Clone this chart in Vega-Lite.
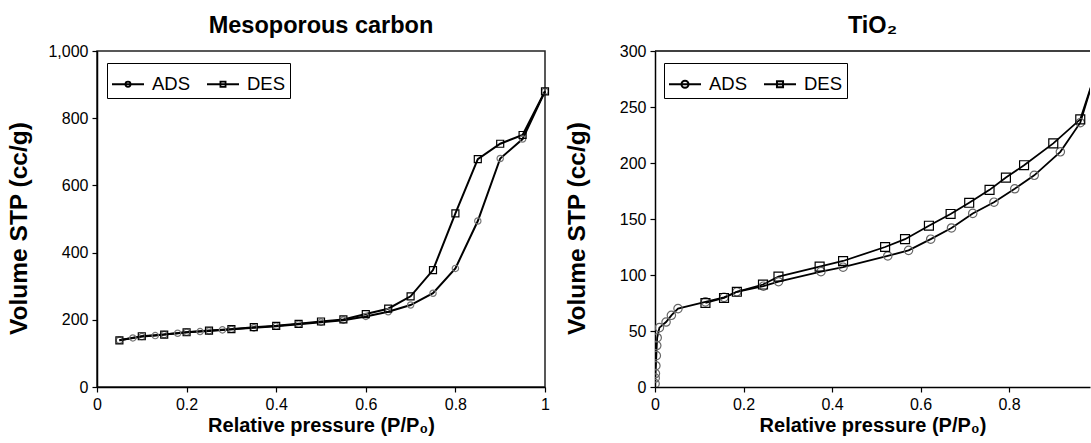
{
  "$schema": "https://vega.github.io/schema/vega-lite/v6.json",
  "background": "white",
  "padding": {"left": 5, "top": 12, "right": 0, "bottom": 0},
  "spacing": 12,
  "config": {
    "font": "Liberation Sans",
    "view": {"stroke": null},
    "axis": {
      "domainColor": "black", "domainWidth": 1.5, "tickColor": "black", "tickSize": 5, "tickWidth": 1.2,
      "labelFontSize": 16, "labelColor": "black", "labelFont": "Liberation Sans", "labelPadding": 4, "labelFlush": false,
      "titleFontSize": 21, "titleColor": "black", "titleFontWeight": "bold", "titleFont": "Liberation Sans", "grid": false
    },
    "title": {"fontSize": 23.5, "fontWeight": "bold", "color": "black", "font": "Liberation Sans", "offset": 6},
    "legend": {
      "title": null, "orient": "none", "legendY": 12, "direction": "horizontal",
      "strokeColor": "black", "fillColor": "white", "padding": 4,
      "labelFontSize": 18.5, "labelColor": "black", "labelFont": "Liberation Sans", "labelOffset": 7, "columnPadding": 12,
      "symbolSize": 1024, "symbolStrokeWidth": 2, "symbolStrokeColor": "black", "symbolFillColor": "transparent", "symbolOpacity": 1
    }
  },
  "datasets": {
    "carbon": [
      {"s": "ADS", "p": 0.05, "v": 139}, {"s": "ADS", "p": 0.08, "v": 146}, {"s": "ADS", "p": 0.10, "v": 150},
      {"s": "ADS", "p": 0.13, "v": 153}, {"s": "ADS", "p": 0.15, "v": 156}, {"s": "ADS", "p": 0.18, "v": 160},
      {"s": "ADS", "p": 0.20, "v": 163}, {"s": "ADS", "p": 0.23, "v": 165}, {"s": "ADS", "p": 0.25, "v": 167},
      {"s": "ADS", "p": 0.28, "v": 170}, {"s": "ADS", "p": 0.30, "v": 172}, {"s": "ADS", "p": 0.35, "v": 176},
      {"s": "ADS", "p": 0.40, "v": 181}, {"s": "ADS", "p": 0.45, "v": 187}, {"s": "ADS", "p": 0.50, "v": 193},
      {"s": "ADS", "p": 0.55, "v": 199}, {"s": "ADS", "p": 0.60, "v": 210}, {"s": "ADS", "p": 0.65, "v": 224},
      {"s": "ADS", "p": 0.70, "v": 244}, {"s": "ADS", "p": 0.75, "v": 279}, {"s": "ADS", "p": 0.80, "v": 353},
      {"s": "ADS", "p": 0.85, "v": 494}, {"s": "ADS", "p": 0.90, "v": 680}, {"s": "ADS", "p": 0.95, "v": 738},
      {"s": "ADS", "p": 1.00, "v": 880},
      {"s": "DES", "p": 0.05, "v": 139}, {"s": "DES", "p": 0.10, "v": 151}, {"s": "DES", "p": 0.15, "v": 156},
      {"s": "DES", "p": 0.20, "v": 163}, {"s": "DES", "p": 0.25, "v": 168}, {"s": "DES", "p": 0.30, "v": 172},
      {"s": "DES", "p": 0.35, "v": 178}, {"s": "DES", "p": 0.40, "v": 182}, {"s": "DES", "p": 0.45, "v": 188},
      {"s": "DES", "p": 0.50, "v": 195}, {"s": "DES", "p": 0.55, "v": 201}, {"s": "DES", "p": 0.60, "v": 217},
      {"s": "DES", "p": 0.65, "v": 233}, {"s": "DES", "p": 0.70, "v": 270}, {"s": "DES", "p": 0.75, "v": 348},
      {"s": "DES", "p": 0.80, "v": 517}, {"s": "DES", "p": 0.85, "v": 678}, {"s": "DES", "p": 0.90, "v": 724},
      {"s": "DES", "p": 0.95, "v": 750}, {"s": "DES", "p": 1.00, "v": 880}
    ],
    "tio2": [
      {"s": "ADS", "p": 0.0002, "v": 3}, {"s": "ADS", "p": 0.0005, "v": 8}, {"s": "ADS", "p": 0.001, "v": 12},
      {"s": "ADS", "p": 0.002, "v": 19}, {"s": "ADS", "p": 0.003, "v": 28}, {"s": "ADS", "p": 0.004, "v": 37},
      {"s": "ADS", "p": 0.005, "v": 44}, {"s": "ADS", "p": 0.010, "v": 53}, {"s": "ADS", "p": 0.025, "v": 58},
      {"s": "ADS", "p": 0.037, "v": 64}, {"s": "ADS", "p": 0.052, "v": 70}, {"s": "ADS", "p": 0.114, "v": 76},
      {"s": "ADS", "p": 0.156, "v": 80}, {"s": "ADS", "p": 0.185, "v": 85}, {"s": "ADS", "p": 0.245, "v": 90},
      {"s": "ADS", "p": 0.279, "v": 94}, {"s": "ADS", "p": 0.375, "v": 103}, {"s": "ADS", "p": 0.425, "v": 107},
      {"s": "ADS", "p": 0.526, "v": 117}, {"s": "ADS", "p": 0.573, "v": 122}, {"s": "ADS", "p": 0.623, "v": 132},
      {"s": "ADS", "p": 0.670, "v": 142}, {"s": "ADS", "p": 0.718, "v": 155}, {"s": "ADS", "p": 0.766, "v": 165},
      {"s": "ADS", "p": 0.813, "v": 177}, {"s": "ADS", "p": 0.857, "v": 189}, {"s": "ADS", "p": 0.916, "v": 210},
      {"s": "ADS", "p": 0.961, "v": 236}, {"s": "ADS", "p": 0.995, "v": 280},
      {"s": "DES", "p": 0.114, "v": 75}, {"s": "DES", "p": 0.156, "v": 79.5}, {"s": "DES", "p": 0.185, "v": 85},
      {"s": "DES", "p": 0.244, "v": 91.5}, {"s": "DES", "p": 0.279, "v": 98.5}, {"s": "DES", "p": 0.372, "v": 107.5},
      {"s": "DES", "p": 0.425, "v": 112.5}, {"s": "DES", "p": 0.520, "v": 125}, {"s": "DES", "p": 0.565, "v": 132},
      {"s": "DES", "p": 0.619, "v": 144}, {"s": "DES", "p": 0.668, "v": 154.5}, {"s": "DES", "p": 0.710, "v": 164.5},
      {"s": "DES", "p": 0.756, "v": 176}, {"s": "DES", "p": 0.793, "v": 187}, {"s": "DES", "p": 0.834, "v": 198},
      {"s": "DES", "p": 0.900, "v": 217.5}, {"s": "DES", "p": 0.961, "v": 239}, {"s": "DES", "p": 0.995, "v": 280}
    ]
  },
  "resolve": {
    "scale": {"shape": "independent"},
    "legend": {"shape": "independent"}
  },
  "hconcat": [
    {
      "width": 448,
      "height": 336,
      "title": "Mesoporous carbon",
      "view": {"stroke": "#222", "strokeWidth": 1.5},
      "data": {"name": "carbon"},
      "encoding": {
        "x": {"field": "p", "type": "quantitative",
              "scale": {"domain": [0, 1], "nice": false, "zero": false},
              "axis": {"values": [0, 0.2, 0.4, 0.6, 0.8, 1], "format": "~g", "title": "Relative pressure (P/P₀)", "titleFontSize": 20, "titlePadding": 3}},
        "y": {"field": "v", "type": "quantitative",
              "scale": {"domain": [0, 1000], "nice": false},
              "axis": {"values": [0, 200, 400, 600, 800, 1000], "format": ",d", "title": "Volume STP (cc/g)", "titleFontSize": 24.5, "titleX": -66, "titleY": 177}}
      },
      "layer": [
        {
          "mark": {"type": "line", "color": "black", "strokeWidth": 2},
          "encoding": {"detail": {"field": "s", "type": "nominal"}}
        },
        {
          "mark": {"type": "point", "filled": false, "strokeWidth": 1.2, "opacity": 1},
          "encoding": {
            "shape": {"condition": {"test": "datum.s === 'ADS'", "value": "circle"}, "value": "square"},
            "stroke": {"condition": {"test": "datum.s === 'ADS'", "value": "#777777"}, "value": "#000000"},
            "size": {"condition": {"test": "datum.s === 'ADS'", "value": 40}, "value": 49}
          }
        },
        {
          "transform": [{"filter": "false"}],
          "mark": {"type": "point", "filled": false},
          "encoding": {
            "shape": {"field": "s", "type": "nominal",
                      "scale": {"domain": ["ADS", "DES"], "range": [
                        "M-1,0H1M-0.16,0A0.16,0.16,0,1,1,0.16,0A0.16,0.16,0,1,1,-0.16,0Z",
                        "M-1,0H1M-0.16,-0.16H0.16V0.16H-0.16Z"]},
                      "legend": {"legendX": 10, "symbolStrokeWidth": 1.8}}
          }
        }
      ]
    },
    {
      "width": 435,
      "height": 336,
      "title": "TiO₂",
      "data": {"name": "tio2"},
      "encoding": {
        "x": {"field": "p", "type": "quantitative",
              "scale": {"domain": [0, 0.983], "nice": false, "zero": false},
              "axis": {"values": [0, 0.2, 0.4, 0.6, 0.8], "format": "~g", "title": "Relative pressure (P/P₀)", "titleFontSize": 20, "titlePadding": 3}},
        "y": {"field": "v", "type": "quantitative",
              "scale": {"domain": [0, 300], "nice": false},
              "axis": {"values": [0, 50, 100, 150, 200, 250, 300], "title": "Volume STP (cc/g)", "titleFontSize": 24.5, "titleX": -66, "titleY": 177}}
      },
      "layer": [
        {
          "data": {"values": [{"t": 300}]},
          "mark": {"type": "rule", "color": "black", "strokeWidth": 1.5},
          "encoding": {"y": {"field": "t", "type": "quantitative"}, "x": null}
        },
        {
          "mark": {"type": "line", "color": "black", "strokeWidth": 1.8, "clip": true},
          "encoding": {"detail": {"field": "s", "type": "nominal"}}
        },
        {
          "mark": {"type": "point", "filled": false, "strokeWidth": 1.2, "opacity": 1, "clip": true},
          "encoding": {
            "shape": {"condition": {"test": "datum.s === 'ADS'", "value": "circle"}, "value": "square"},
            "stroke": {"condition": {"test": "datum.s === 'ADS'", "value": "#666666"}, "value": "#000000"},
            "size": {"condition": {"test": "datum.s === 'ADS'", "value": 70}, "value": 80}
          }
        },
        {
          "transform": [{"filter": "false"}],
          "mark": {"type": "point", "filled": false},
          "encoding": {
            "shape": {"field": "s", "type": "nominal",
                      "scale": {"domain": ["ADS", "DES"], "range": [
                        "M-1,0H1M-0.22,0A0.22,0.22,0,1,1,0.22,0A0.22,0.22,0,1,1,-0.22,0Z",
                        "M-1,0H1M-0.19,-0.19H0.19V0.19H-0.19Z"]},
                      "legend": {"legendX": 9}}
          }
        }
      ]
    }
  ]
}
